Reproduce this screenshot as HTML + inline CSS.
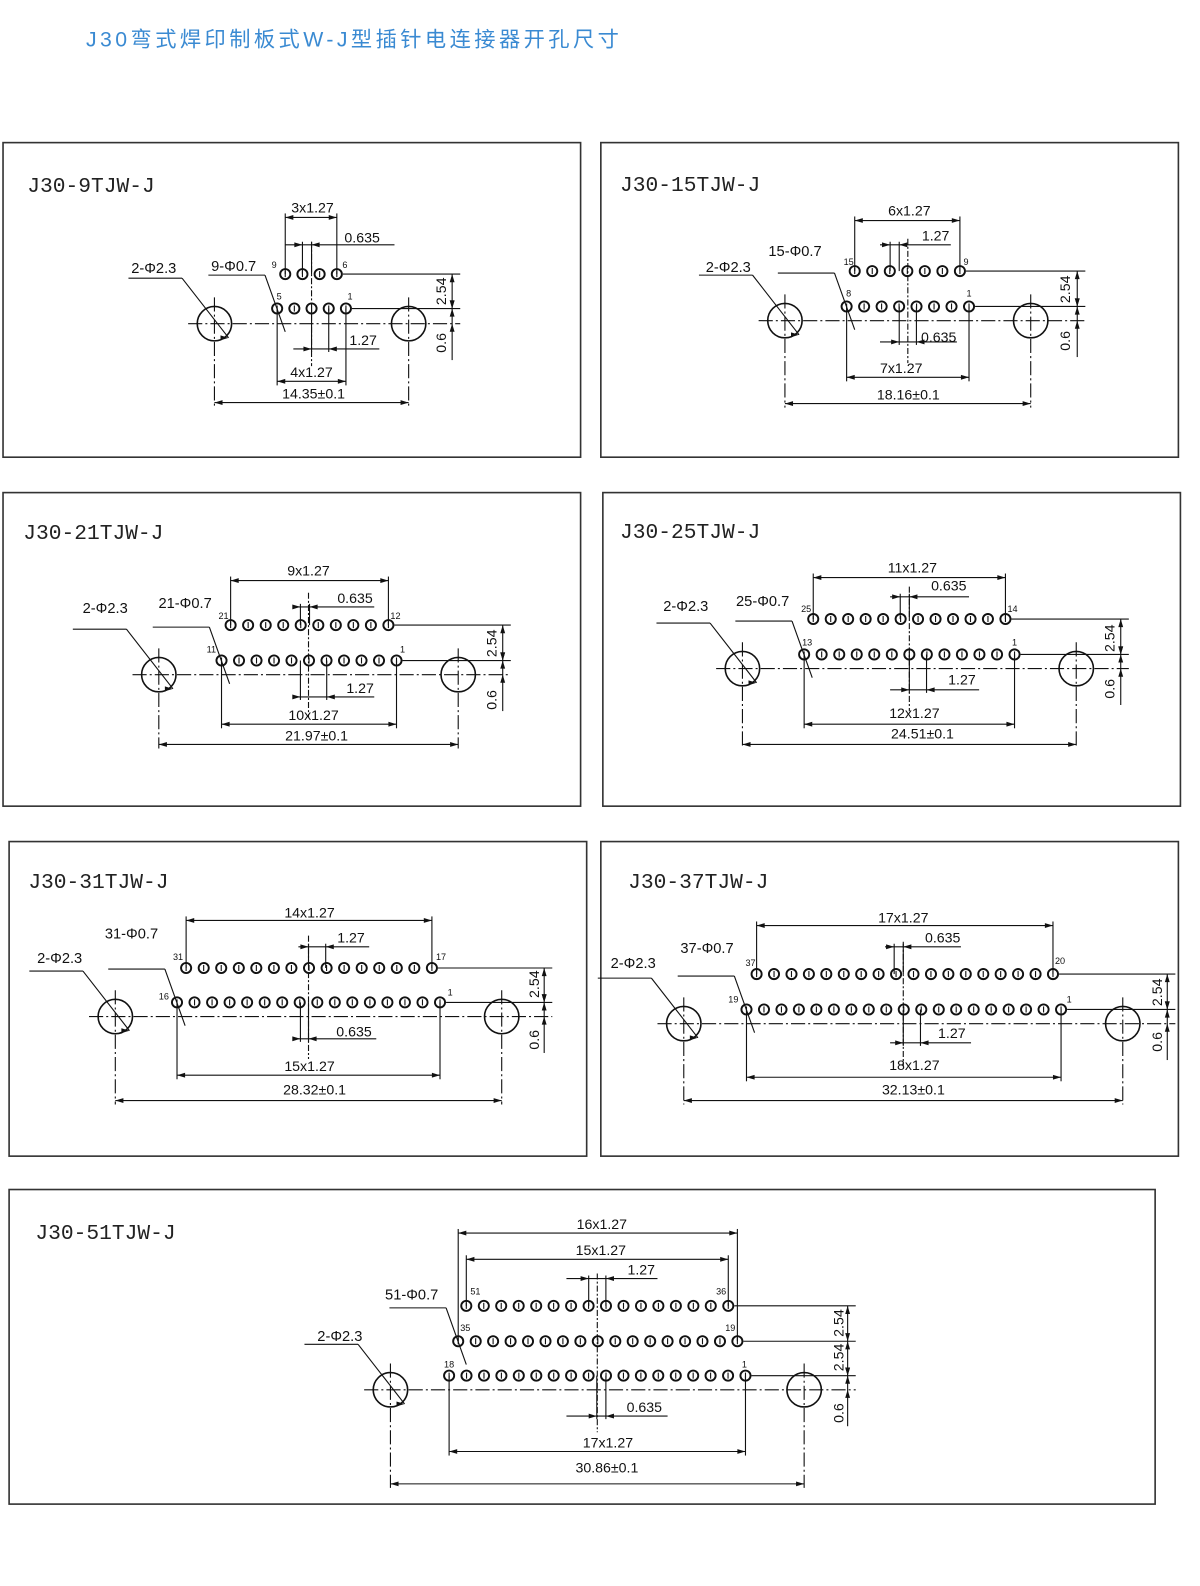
<!DOCTYPE html>
<html><head><meta charset="utf-8">
<style>
html,body{margin:0;padding:0;background:#fff;overflow:hidden;width:1200px;height:1586px;}
svg{display:block;position:absolute;left:0;top:0;}
.t{font-family:"Liberation Sans",Arial,sans-serif;font-size:14px;fill:#111;}
.l{font-family:"Liberation Sans",Arial,sans-serif;font-size:14.5px;fill:#111;}
.n{font-family:"Liberation Sans",Arial,sans-serif;font-size:9px;fill:#111;}
.h{font-family:"Liberation Mono","DejaVu Sans Mono",monospace;font-size:21px;fill:#222;}
</style></head>
<body>
<svg id="s" width="1200" height="1586" viewBox="0 0 1200 1586" xmlns="http://www.w3.org/2000/svg">
<g transform="scale(1.0115)">
<text x="85" y="46" style="font-family:'Liberation Sans','Noto Sans CJK SC',sans-serif;font-size:21px;letter-spacing:3.4px;fill:#3a8ad2;">J30弯式焊印制板式W-J型插针电连接器开孔尺寸</text>
<g id="g" stroke="#111" stroke-width="1.1" fill="none"></g>
<g text-anchor="middle" dominant-baseline="central">
<!-- P1 -->
<text class="h" x="27" y="185" text-anchor="start">J30-9TJW-J</text>
<text class="t" x="309" y="206">3x1.27</text>
<text class="t" x="358" y="236">0.635</text>
<text class="l" x="152" y="266">2-Φ2.3</text>
<text class="l" x="231" y="264">9-Φ0.7</text>
<text class="n" x="271" y="262">9</text><text class="n" x="341" y="262">6</text>
<text class="n" x="276" y="293">5</text><text class="n" x="346" y="293">1</text>
<text class="t" x="359" y="337">1.27</text>
<text class="t" x="308" y="369">4x1.27</text>
<text class="t" x="310" y="390">14.35±0.1</text>
<text class="t" transform="translate(437,288) rotate(-90)">2.54</text>
<text class="t" transform="translate(437,339) rotate(-90)">0.6</text>
<!-- P2 -->
<text class="h" x="613" y="184" text-anchor="start">J30-15TJW-J</text>
<text class="t" x="899" y="209">6x1.27</text>
<text class="t" x="925" y="234">1.27</text>
<text class="l" x="786" y="249">15-Φ0.7</text>
<text class="l" x="720" y="265">2-Φ2.3</text>
<text class="n" x="839" y="259">15</text><text class="n" x="955" y="259">9</text>
<text class="n" x="839" y="290">8</text><text class="n" x="958" y="290">1</text>
<text class="t" x="928" y="334">0.635</text>
<text class="t" x="891" y="365">7x1.27</text>
<text class="t" x="898" y="391">18.16±0.1</text>
<text class="t" transform="translate(1054,286) rotate(-90)">2.54</text>
<text class="t" transform="translate(1054,337) rotate(-90)">0.6</text>
<!-- P3 -->
<text class="h" x="23" y="528" text-anchor="start">J30-21TJW-J</text>
<text class="t" x="305" y="565">9x1.27</text>
<text class="t" x="351" y="592">0.635</text>
<text class="l" x="104" y="602">2-Φ2.3</text>
<text class="l" x="183" y="597">21-Φ0.7</text>
<text class="n" x="221" y="609">21</text><text class="n" x="391" y="609">12</text>
<text class="n" x="209" y="642">11</text><text class="n" x="398" y="642">1</text>
<text class="t" x="356" y="681">1.27</text>
<text class="t" x="310" y="708">10x1.27</text>
<text class="t" x="313" y="728">21.97±0.1</text>
<text class="t" transform="translate(487,636) rotate(-90)">2.54</text>
<text class="t" transform="translate(487,692) rotate(-90)">0.6</text>
<!-- P4 -->
<text class="h" x="613" y="527" text-anchor="start">J30-25TJW-J</text>
<text class="t" x="902" y="562">11x1.27</text>
<text class="t" x="938" y="580">0.635</text>
<text class="l" x="678" y="600">2-Φ2.3</text>
<text class="l" x="754" y="595">25-Φ0.7</text>
<text class="n" x="797" y="602">25</text><text class="n" x="1001" y="602">14</text>
<text class="n" x="798" y="635">13</text><text class="n" x="1003" y="635">1</text>
<text class="t" x="951" y="673">1.27</text>
<text class="t" x="904" y="706">12x1.27</text>
<text class="t" x="912" y="726">24.51±0.1</text>
<text class="t" transform="translate(1098,631) rotate(-90)">2.54</text>
<text class="t" transform="translate(1098,681) rotate(-90)">0.6</text>
<!-- P5 -->
<text class="h" x="28" y="873" text-anchor="start">J30-31TJW-J</text>
<text class="t" x="306" y="903">14x1.27</text>
<text class="t" x="347" y="928">1.27</text>
<text class="l" x="130" y="924">31-Φ0.7</text>
<text class="l" x="59" y="948">2-Φ2.3</text>
<text class="n" x="176" y="946">31</text><text class="n" x="436" y="946">17</text>
<text class="n" x="162" y="985">16</text><text class="n" x="445" y="981">1</text>
<text class="t" x="350" y="1021">0.635</text>
<text class="t" x="306" y="1055">15x1.27</text>
<text class="t" x="311" y="1078">28.32±0.1</text>
<text class="t" transform="translate(529,973) rotate(-90)">2.54</text>
<text class="t" transform="translate(529,1028) rotate(-90)">0.6</text>
<!-- P6 -->
<text class="h" x="621" y="873" text-anchor="start">J30-37TJW-J</text>
<text class="t" x="893" y="908">17x1.27</text>
<text class="t" x="932" y="928">0.635</text>
<text class="l" x="699" y="938">37-Φ0.7</text>
<text class="l" x="626" y="953">2-Φ2.3</text>
<text class="n" x="742" y="952">37</text><text class="n" x="1048" y="950">20</text>
<text class="n" x="725" y="988">19</text><text class="n" x="1057" y="988">1</text>
<text class="t" x="941" y="1022">1.27</text>
<text class="t" x="904" y="1054">18x1.27</text>
<text class="t" x="903" y="1078">32.13±0.1</text>
<text class="t" transform="translate(1145,981) rotate(-90)">2.54</text>
<text class="t" transform="translate(1145,1030) rotate(-90)">0.6</text>
<!-- P7 -->
<text class="h" x="35" y="1220" text-anchor="start">J30-51TJW-J</text>
<text class="t" x="595" y="1211">16x1.27</text>
<text class="t" x="594" y="1237">15x1.27</text>
<text class="t" x="634" y="1256">1.27</text>
<text class="l" x="407" y="1281">51-Φ0.7</text>
<text class="l" x="336" y="1322">2-Φ2.3</text>
<text class="n" x="470" y="1277">51</text><text class="n" x="713" y="1277">36</text>
<text class="n" x="460" y="1313">35</text><text class="n" x="722" y="1313">19</text>
<text class="n" x="444" y="1349">18</text><text class="n" x="736" y="1349">1</text>
<text class="t" x="637" y="1392">0.635</text>
<text class="t" x="601" y="1427">17x1.27</text>
<text class="t" x="600" y="1452">30.86±0.1</text>
<text class="t" transform="translate(830,1308) rotate(-90)">2.54</text>
<text class="t" transform="translate(830,1342) rotate(-90)">2.54</text>
<text class="t" transform="translate(830,1397) rotate(-90)">0.6</text>
</g>
</g>
</svg>
<script>
var NS="http://www.w3.org/2000/svg",G=document.getElementById("g");
function el(t,a){var e=document.createElementNS(NS,t);for(var k in a)e.setAttribute(k,a[k]);G.appendChild(e);return e;}
function ln(x1,y1,x2,y2,ex){var a={x1:x1,y1:y1,x2:x2,y2:y2};if(ex)for(var k in ex)a[k]=ex[k];return el("line",a);}
function arr(x,y,d){var L=8,W=2.4,p;
 if(d=="l")p=[x,y,x+L,y-W,x+L,y+W];if(d=="r")p=[x,y,x-L,y-W,x-L,y+W];
 if(d=="u")p=[x,y,x-W,y+L,x+W,y+L];if(d=="d")p=[x,y,x-W,y-L,x+W,y-L];
 el("polygon",{points:p.join(","),fill:"#111",stroke:"none"});}
function dimH(x1,x2,y){ln(x1,y,x2,y);arr(x1,y,"l");arr(x2,y,"r");}
function small(a,b,y,s,e){ln(s,y,e,y);arr(a,y,"r");arr(b,y,"l");}
var DD={"stroke-dasharray":"14,3,2,3"};
var P=[
{r:[3,141,571,311],h:[212,404],cy:320,rows:[[271,282,333,4],[305,274,342,5]],vx:447,
 dims:[[282,333,215,0],[274,342,377,1],[212,404,398,2]],s:[[242,299,308,282,390],[345,308,325,290,375]]},
{r:[594,141,571,311],h:[776,1019],cy:317,rows:[[268,845,949,7],[303,837,958,8]],vx:1065,
 dims:[[845,949,218,0],[837,958,373,1],[776,1019,399,2]],s:[[242,880,889,870,940],[338,889,906,870,946]]},
{r:[3,487,571,310],h:[157,453],cy:667,rows:[[618,228,384,10],[653,219,392,11]],vx:497,
 dims:[[228,384,574,0],[219,392,716,1],[157,453,736,2]],s:[[600,297,306,290,370],[689,297,323,290,370]]},
{r:[596,487,571,310],h:[734,1064],cy:661,rows:[[612,804,994,12],[647,795,1003,13]],vx:1108,
 dims:[[804,994,571,0],[795,1003,716,1],[734,1064,736,2]],s:[[590,890,899,880,958],[682,899,916,880,968]]},
{r:[9,832,571,311],h:[114,496],cy:1005,rows:[[957,184,427,15],[991,175,435,16]],vx:538,
 dims:[[184,427,910,0],[175,435,1063,1],[114,496,1088,2]],s:[[936,305,322,295,365],[1027,297,305,290,372]]},
{r:[594,832,571,311],h:[676,1110],cy:1012,rows:[[963,748,1041,18],[998,738,1049,19]],vx:1154,
 dims:[[748,1041,915,0],[738,1049,1065,1],[676,1110,1088,2]],s:[[936,884,893,875,950],[1031,893,910,880,960]]},
{r:[9,1176,1133,311],h:[386,795],cy:1374,rows:[[1291,461,720,16],[1326,453,729,17],[1360,444,737,18]],vx:838,
 dims:[[453,729,1219,1],[461,720,1245,0],[444,737,1435,2],[386,795,1467,2]],s:[[1264,582,599,560,650],[1400,590,599,560,660]]}
];
P.forEach(function(p){
 el("rect",{x:p.r[0],y:p.r[1],width:p.r[2],height:p.r[3],"stroke-width":1.6,stroke:"#333"});
 var cy=p.cy,h1=p.h[0],h2=p.h[1],last=p.rows.length-1,bottom=p.dims[p.dims.length-1][2];
 ln(h1-26,cy,p.vx+8,cy,DD);
 [h1,h2].forEach(function(x){el("circle",{cx:x,cy:cy,r:17,"stroke-width":1.6});ln(x,cy-26,x,bottom+4,DD);});
 p.rows.forEach(function(r){
  var y=r[0],n=r[3],dx=(r[2]-r[1])/(n-1);
  ln(r[2]+6,y,p.vx+8,y);
  for(var i=0;i<n;i++){var x=r[1]+dx*i;el("circle",{cx:x.toFixed(1),cy:y,r:5,"stroke-width":1.9});
   ln(x,y-3,x,y+3,{"stroke-width":1.1});}
 });
 var cx=(h1+h2)/2;ln(cx,p.rows[0][0]-32,cx,cy+42,{"stroke-dasharray":"6,2,2,2"});
 p.dims.forEach(function(d){
  var y=d[2];
  if(d[3]!=2||p.h.indexOf(d[0])<0){var ty=p.rows[d[3]==0?0:(d[3]==1?(p.rows.length==3?1:last):last)][0];
   [d[0],d[1]].forEach(function(x){ln(x,ty,x,y+(y<ty?-4:4));});}
  dimH(d[0],d[1],y);
 });
 p.s.forEach(function(s){var y=s[0],ty=y<p.rows[0][0]?p.rows[0][0]:p.rows[last][0];
  [s[1],s[2]].forEach(function(x){ln(x,ty,x,y+(y<ty?-3:3));});small(s[1],s[2],y,s[3],s[4]);});
 var vx=p.vx,top=p.rows[0][0];
 ln(vx,top,vx,cy+36);
 p.rows.forEach(function(r,i){if(i>0){arr(vx,r[0],"d");arr(vx,r[0],"u");}});
 arr(vx,top,"u");arr(vx,cy,"u");arr(vx,p.rows[last][0],"d");
 ln(h1-85,cy-45,h1-32,cy-45);ln(h1-32,cy-45,h1+14,cy+14);arr(h1+14,cy+14,"r");
 var br=p.rows[p.rows.length>2?1:last],px=br[1],py=br[0];
 ln(px-68,py-33,px-12,py-33);ln(px-12,py-33,px+8,py+23);
});
</script>
</body></html>
